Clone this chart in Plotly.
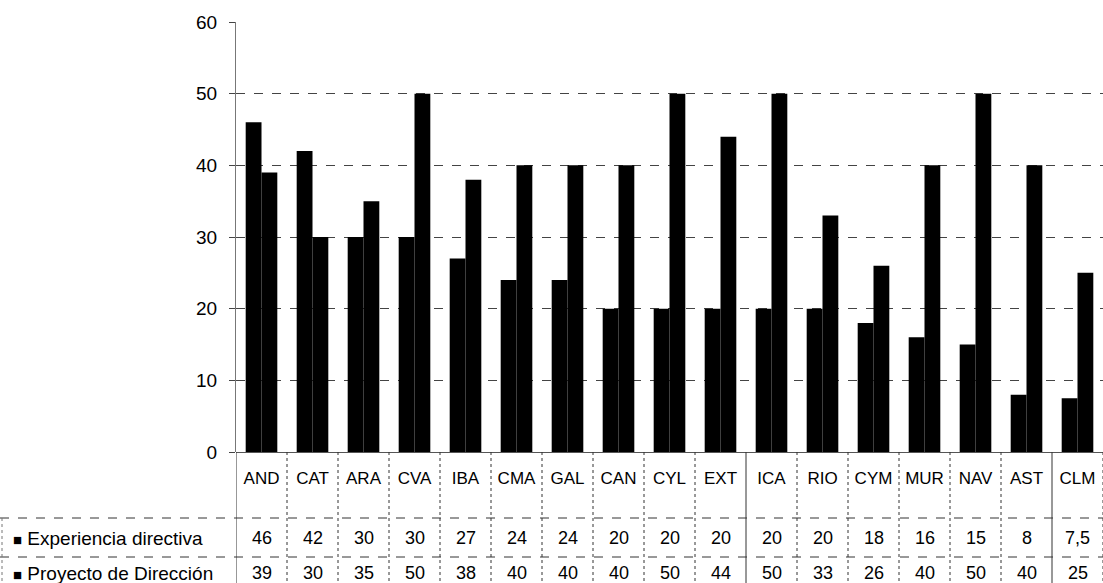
import plotly.graph_objects as go

categories = ["AND", "CAT", "ARA", "CVA", "IBA", "CMA", "GAL", "CAN", "CYL",
              "EXT", "ICA", "RIO", "CYM", "MUR", "NAV", "AST", "CLM"]
experiencia = [46, 42, 30, 30, 27, 24, 24, 20, 20, 20, 20, 20, 18, 16, 15, 8, 7.5]
proyecto = [39, 30, 35, 50, 38, 40, 40, 40, 50, 44, 50, 33, 26, 40, 50, 40, 25]
series_names = ["Experiencia directiva", "Proyecto de Dirección"]
y_ticks = [0, 10, 20, 30, 40, 50, 60]

def fmt(v):
    return (str(v).replace(".", ",")) if v != int(v) else str(int(v))

FONT = "Liberation Sans, Arial, sans-serif"
idx = list(range(len(categories)))

fig = go.Figure()
fig.add_trace(go.Bar(x=idx, y=experiencia, name=series_names[0],
                     marker=dict(color="black", line=dict(width=0))))
fig.add_trace(go.Bar(x=idx, y=proyecto, name=series_names[1],
                     marker=dict(color="black", line=dict(width=0))))

W, H = 1103, 583
ml, mr, mt, mb = 236, 0, 22, 131
ph = H - mt - mb
pw = W - ml - mr

def py(pix):
    return (H - mb - pix) / ph

shapes = []
annotations = []
row_y = [py(538), py(573)]
line_top = py(518)
line_mid = py(557)
line_bot = py(583)
x_left = -ml / pw

# horizontal table lines
for yy in [line_top, line_mid]:
    shapes.append(dict(type="line", xref="paper", yref="paper", x0=x_left, x1=1,
                       y0=yy, y1=yy, line=dict(color="#333", width=1, dash="dash")))
# left border of table
shapes.append(dict(type="line", xref="paper", yref="paper", x0=x_left + 2 / pw, x1=x_left + 2 / pw,
                   y0=line_top, y1=line_bot, line=dict(color="#777", width=1, dash="dot")))
# vertical lines at category boundaries
for i in range(len(categories) + 1):
    xb = i - 0.5
    shapes.append(dict(type="line", xref="x", yref="paper", x0=xb, x1=xb,
                       y0=0, y1=line_bot,
                       line=dict(color="#333", width=1, dash="solid" if i in (0, 10, 16) else "dot")))

for r, vals in enumerate([experiencia, proyecto]):
    for i, v in enumerate(vals):
        annotations.append(dict(x=i, y=row_y[r], xref="x", yref="paper", text=fmt(v),
                                showarrow=False, font=dict(size=18, color="black", family=FONT),
                                xanchor="center", yanchor="middle"))
    annotations.append(dict(x=x_left + 11 / pw, y=row_y[r], xref="paper", yref="paper",
                            text="<span style='font-size:15px'>■</span> " + series_names[r],
                            showarrow=False, xanchor="left", yanchor="middle",
                            font=dict(size=19, color="black", family=FONT)))

fig.update_layout(
    width=W, height=H,
    margin=dict(l=ml, r=mr, t=mt, b=mb),
    paper_bgcolor="white", plot_bgcolor="white",
    barmode="group", bargap=0.38, bargroupgap=0,
    showlegend=False,
    font=dict(family=FONT, color="black"),
    shapes=shapes, annotations=annotations,
)
fig.update_xaxes(tickmode="array", tickvals=idx, ticktext=categories,
                 range=[-0.5, len(categories) - 0.5], showgrid=False, zeroline=False,
                 showline=False, ticks="", tickfont=dict(size=17, color="black"),
                 ticklabelstandoff=14)
fig.update_yaxes(range=[0, 60], tickvals=y_ticks, showgrid=True, gridcolor="#444",
                 griddash="dash", gridwidth=1, zeroline=True, zerolinecolor="#555",
                 zerolinewidth=1, showline=True,
                 linecolor="#777", linewidth=1, ticks="outside", ticklen=6,
                 tickcolor="#444", tickfont=dict(size=19, color="black"),
                 ticklabelstandoff=8)

fig.write_html("out.html", config={"displayModeBar": False},
               post_script="document.body.style.margin='0px';")
